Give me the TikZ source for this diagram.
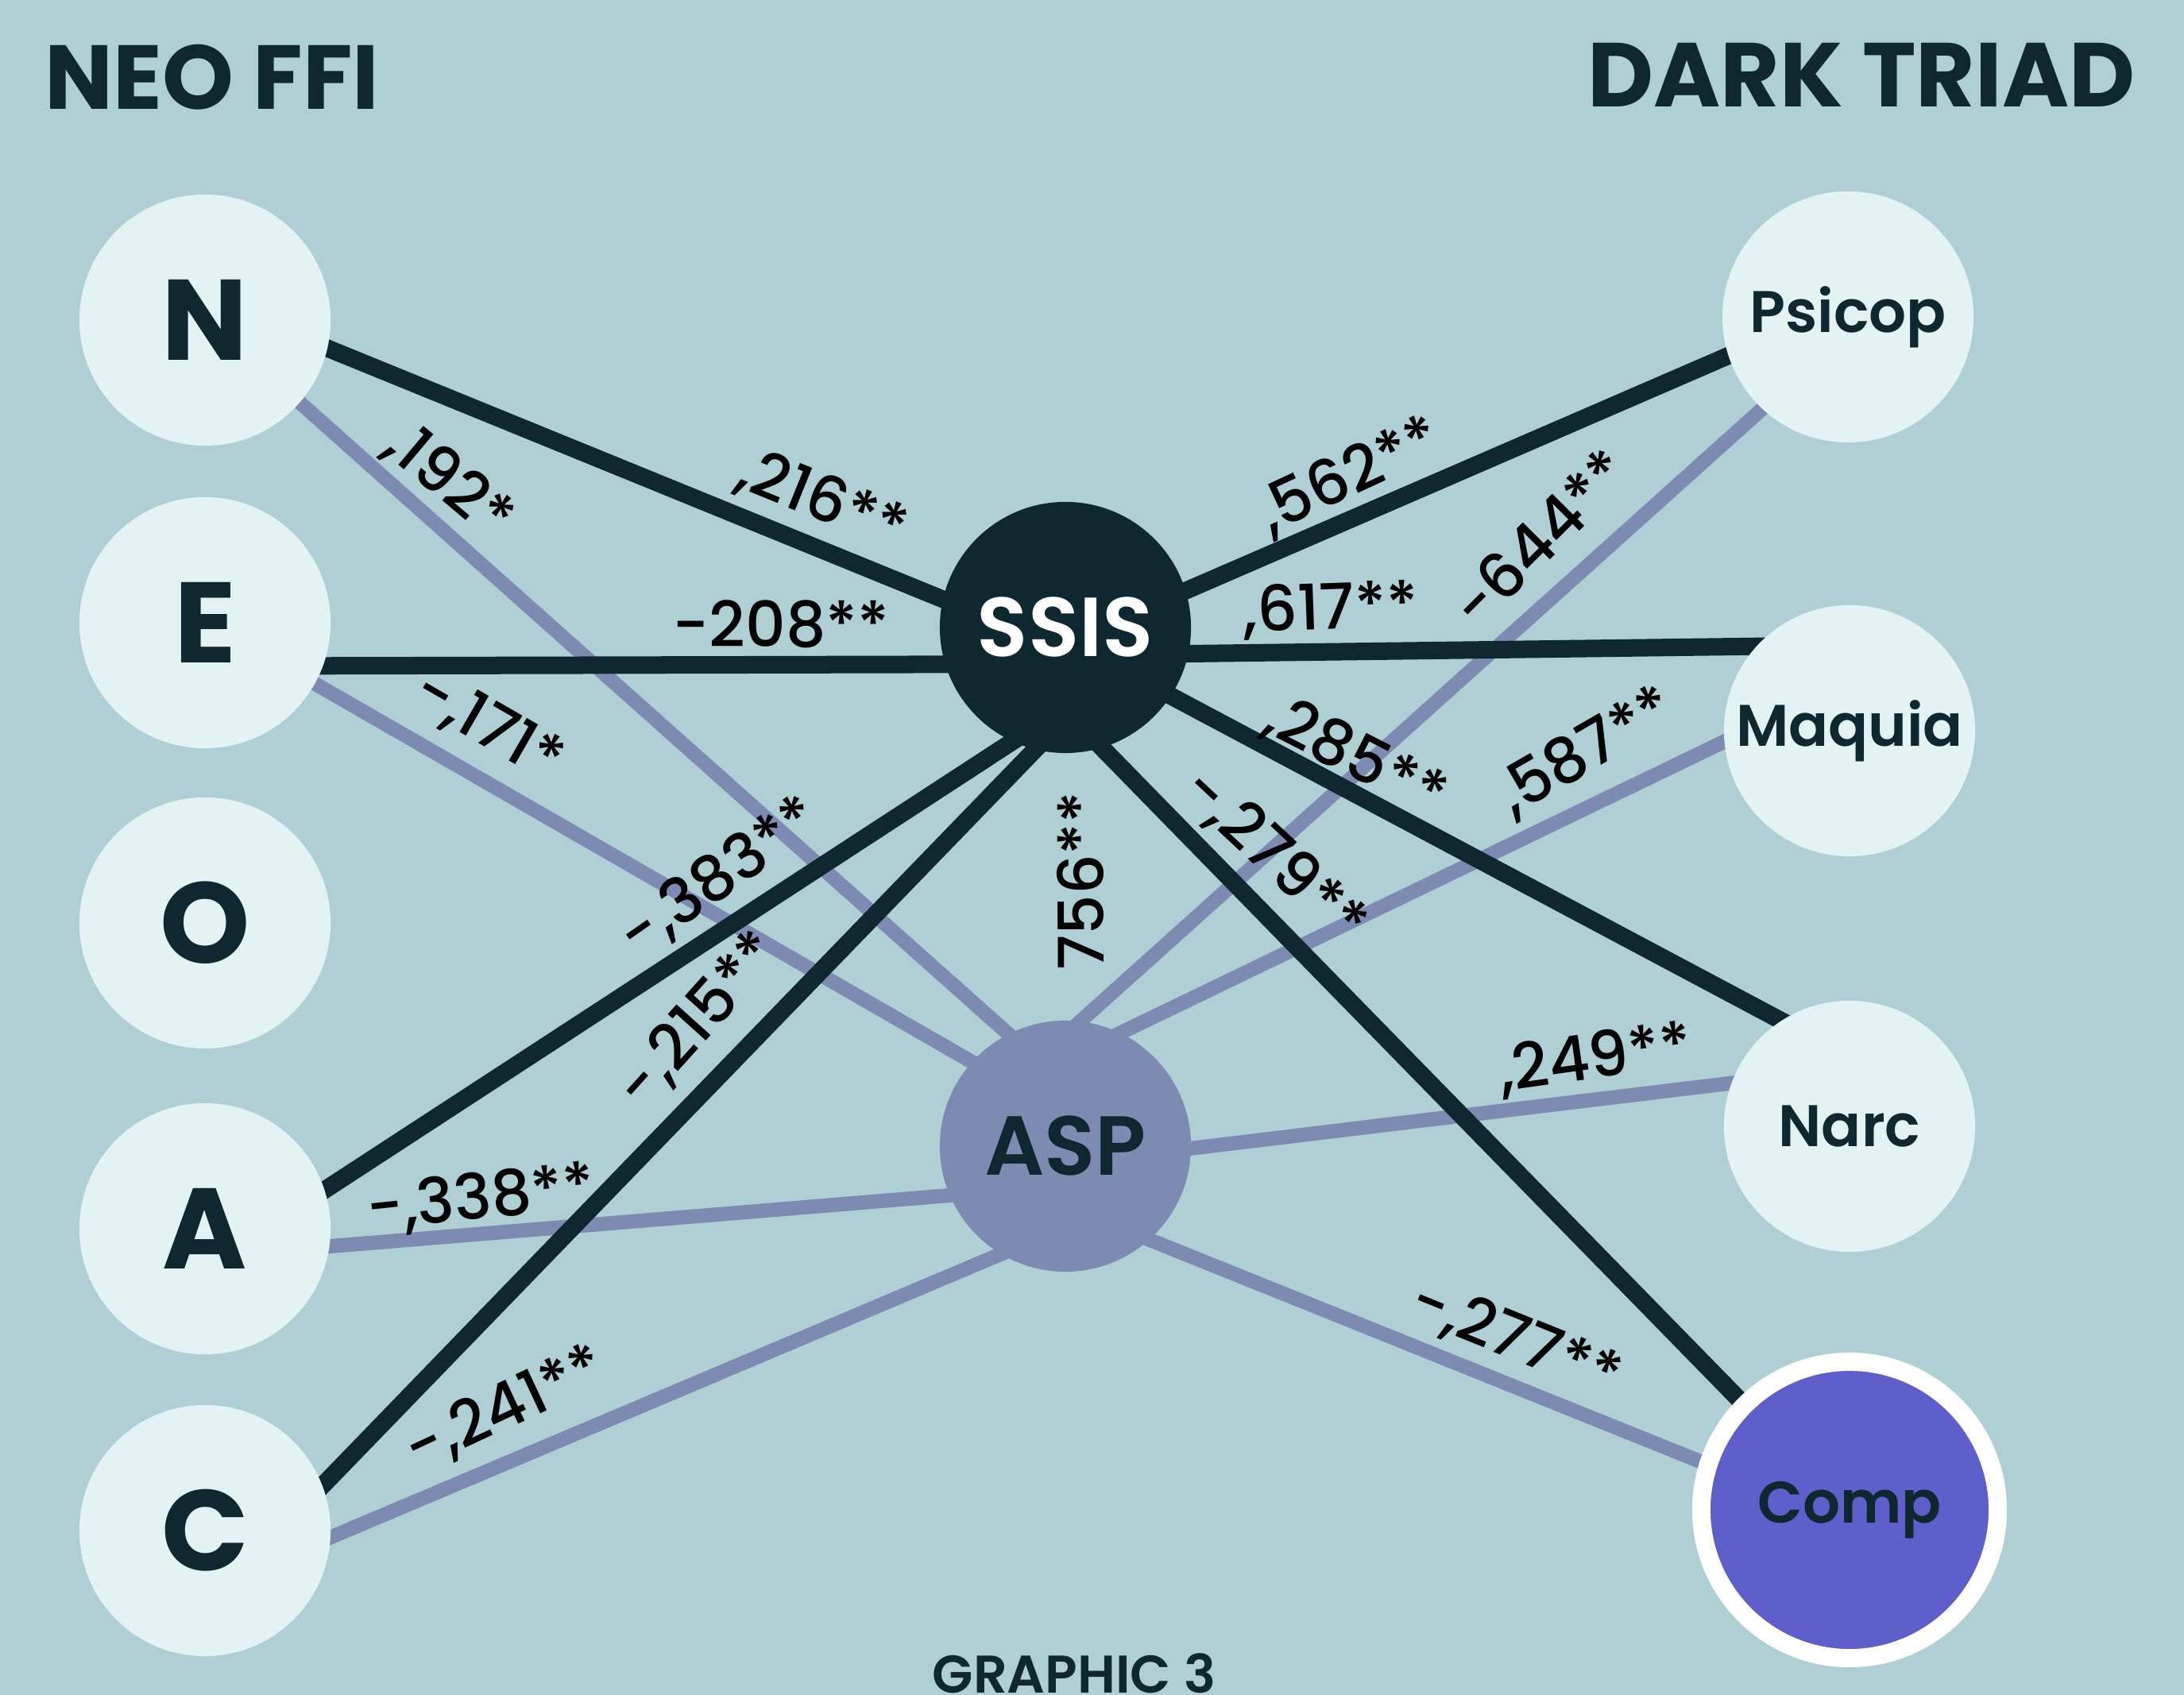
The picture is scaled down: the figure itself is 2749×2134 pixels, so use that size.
\documentclass[tikz,border=0pt]{standalone}
\usepackage{fontspec}
\setmainfont{Poppins}[BoldFont={Poppins SemiBold}]
\newfontfamily\labfont{Poppins Medium}
\newfontfamily\heavyfont{Poppins Bold}
\usetikzlibrary{calc}
\definecolor{bgc}{HTML}{AECFD4}
\definecolor{lightc}{HTML}{E3F2F3}
\definecolor{darkc}{HTML}{0F2830}
\definecolor{purc}{HTML}{7D8AB2}
\definecolor{compc}{HTML}{5F5FCB}
\pgfdeclarelayer{backlayer}
\pgfdeclarelayer{edgelayer}
\pgfsetlayers{backlayer,edgelayer,main}
\tikzset{
  trait/.style={circle, fill=lightc, minimum size=3.16cm, inner sep=0pt, text=darkc, font=\heavyfont\fontsize{41}{41}\selectfont},
  dtrait/.style={trait, font=\fontsize{21}{21}\selectfont\bfseries},
  hub/.style={circle, minimum size=3.16cm, inner sep=0pt, font=\fontsize{30}{30}\selectfont\bfseries},
  dline/.style={draw=darkc, line width=0.22cm, shorten >=-0.2cm, shorten <=-0.2cm},
  pline/.style={draw=purc, line width=0.18cm, shorten >=-0.2cm, shorten <=-0.2cm},
  lab/.style={font=\labfont\fontsize{22.5}{22.5}\selectfont, text=black, inner sep=0pt},
  head/.style={font=\heavyfont\fontsize{32.5}{32.5}\selectfont, text=darkc, inner sep=0pt}
}
\begin{document}
\begin{tikzpicture}[x=0.01cm,y=0.01cm]
\useasboundingbox (0,0) rectangle (2749,2134);
\begin{pgfonlayer}{backlayer}
\fill[bgc] (0,0) rectangle (2749,2134);
\end{pgfonlayer}

% headings
\node[head, anchor=base west] (neo) at (56,1996) {NEO FFI};
\node[head, anchor=base east] (dark) at (2688,1999) {DARK TRIAD};
\node[font=\fontsize{19}{19}\selectfont\bfseries, text=darkc, inner sep=0pt, anchor=base] (graph) at (1352,2) {GRAPHIC 3};

% left nodes
\node[trait] (N) at (258,1731) {N};
\node[trait] (E) at (258,1350) {E};
\node[trait] (O) at (258,972) {O};
\node[trait] (A) at (258,587) {A};
\node[trait] (C) at (258,207) {C};
% hubs
\node[hub, fill=darkc, text=white] (SSIS) at (1341,1344) {SSIS};
\node[hub, fill=purc, text=darkc] (ASP) at (1341,691) {ASP};
% right nodes
\node[dtrait] (Psicop) at (2326,1735) {Psicop};
\node[dtrait] (Maquia) at (2328,1214) {Maquia};
\node[dtrait] (Narc) at (2328,716) {Narc};
\node[circle, fill=compc, draw=white, line width=0.23cm, minimum size=3.73cm, inner sep=0pt, text=darkc, font=\fontsize{21}{21}\selectfont\bfseries] (Comp) at (2328,233) {Comp};

\begin{pgfonlayer}{edgelayer}
% purple (ASP) lines
\draw[pline] (N.-41) -- (ASP.117.7);
\draw[pline] (E.-29) -- (ASP.138);
\draw[pline] (A.-8.7) -- (ASP.203.6);
\draw[pline] (C.-3.6) -- (ASP.239.5);
\draw[pline] (Psicop.227.8) -- (ASP.83.7);
\draw[pline] (Maquia.185.5) -- (ASP.64.6);
\draw[pline] (ASP.-1.8) -- (Narc.160);
\draw[pline] (ASP.-48.8) -- (Comp.162);
% dark (SSIS) lines
\draw[dline] (N.-13) -- (SSIS.167);
\draw[dline] (E.-20) -- (SSIS.197.5);
\draw[dline] (A.18) -- (SSIS.245);
\draw[dline] (C.21.7) -- (SSIS.256.7);
\draw[dline] (SSIS.17.5) -- (Psicop.198.8);
\draw[dline] (SSIS.-12.7) -- (Maquia.138);
\draw[dline] (SSIS.-33.8) -- (Narc.123);
\draw[dline] (SSIS.-73.4) -- (Comp.135.4);
\end{pgfonlayer}

% labels
\node[lab, rotate=-40] (l192) at (565,1527) {,192*};
\node[lab, rotate=-22] (l216) at (1035,1503) {,216**};
\node[lab, rotate=0] (l208) at (983,1348) {-208**};
\node[lab, rotate=-30] (l171) at (614,1219) {-,171*};
\node[lab, rotate=25] (l562) at (1699,1534) {,562**};
\node[lab, rotate=2] (l617) at (1675,1366) {,617**};
\node[lab, rotate=45] (l644) at (1938,1457) {-644**};
\node[lab, rotate=-27] (l285) at (1706,1180) {,285**};
\node[lab, rotate=30] (l587) at (1997,1187) {,587**};
\node[lab, rotate=35] (l383) at (906,1029) {-,383**};
\node[lab, rotate=48] (l215) at (880,849) {-,215**};
\node[lab, rotate=6] (l338) at (605,624) {-,338**};
\node[lab, rotate=25] (l241) at (636,360) {-,241**};
\node[lab, rotate=90] (l756) at (1360,1025) {756**};
\node[lab, rotate=-43] (l279) at (1603,1055) {-,279**};
\node[lab, rotate=8] (l249) at (2008,800) {,249**};
\node[lab, rotate=-22] (l277) at (1907,447) {-,277**};
\end{tikzpicture}
\end{document}
